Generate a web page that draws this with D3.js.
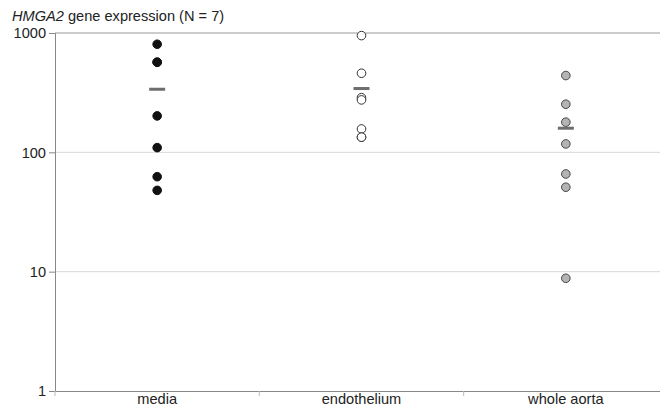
<!DOCTYPE html>
<head>
    <script src="https://d3js.org/d3.v7.min.js"></script>
</head>
<style>
body {
    margin: 0;
    font-family: "Liberation Sans", Arial, Helvetica, sans-serif;
    background: #fff;
}
text {
    fill: #222;
}
</style>
<body>
<svg></svg>
</body>
<script>

    // Data
    var groups = ["media", "endothelium", "whole aorta"];
    var media = [805, 569, 569, 202, 109.5, 62.5, 48];
    var endothelium = [951, 460, 287, 275, 157, 134, 134];
    var wholeAorta = [440, 253, 179, 117.6, 65.9, 51, 8.8];
    var yTicks = [1, 10, 100, 1000];

    var series = [media, endothelium, wholeAorta];
    var fills = ["#111", "#fff", "#b4b4b4"];
    var strokes = ["#111", "#333", "#444"];

    var width = 660, height = 407;
    var margin = {top: 33, right: -8, bottom: 16, left: 55};
    var fontSize = '14.6px';

    var svg = d3.select('svg')
        .attr('width', width)
        .attr('height', height);

    var x = d3.scaleBand()
        .domain(groups)
        .range([margin.left, width - margin.right]);

    var y = d3.scaleLog()
        .domain([1, 1000])
        .range([height - margin.bottom, margin.top]);

    // gridlines
    svg.append('g').selectAll('line')
        .data(yTicks.slice(1))
        .enter().append('line')
        .attr('x1', margin.left)
        .attr('x2', width)
        .attr('y1', function (d) { return y(d); })
        .attr('y2', function (d) { return y(d); })
        .style('stroke', function (d) { return d === 1000 ? '#999' : '#d8d8d8'; })
        .style('stroke-width', 1);

    // y axis
    var yAxis = svg.append('g')
        .attr('transform', 'translate(' + margin.left + ',0)')
        .call(d3.axisLeft(y).tickValues(yTicks).tickFormat(d3.format('d')).tickSize(6).tickPadding(3));
    yAxis.select('.domain').style('stroke', '#888');
    yAxis.selectAll('.tick line').style('stroke', '#888');
    yAxis.selectAll('text').style('font-size', fontSize).style('fill', '#222')
        .attr('font-family', '"Liberation Sans", Arial, sans-serif');

    // x axis
    var xAxis = svg.append('g')
        .attr('transform', 'translate(0,' + y(1) + ')')
        .call(d3.axisBottom(x).tickSize(0).tickPadding(3));
    xAxis.select('.domain').style('stroke', '#888');
    xAxis.selectAll('text').style('font-size', fontSize).style('fill', '#222')
        .attr('font-family', '"Liberation Sans", Arial, sans-serif');

    // category separator ticks
    svg.append('g').selectAll('line')
        .data(groups)
        .enter().append('line')
        .attr('x1', function (d) { return x(d); })
        .attr('x2', function (d) { return x(d); })
        .attr('y1', y(1))
        .attr('y2', y(1) + 5)
        .style('stroke', '#bbb');

    // dots
    series.forEach(function (vals, i) {
        var cx = x(groups[i]) + x.bandwidth() / 2;
        svg.append('g').selectAll('circle')
            .data(vals)
            .enter().append('circle')
            .attr('cx', cx)
            .attr('cy', function (d) { return y(d); })
            .attr('r', 4.3)
            .style('fill', fills[i])
            .style('stroke', strokes[i])
            .style('stroke-width', 1);

        // mean bar
        var m = d3.mean(vals);
        svg.append('rect')
            .attr('x', cx - 8)
            .attr('y', y(m) - 1.5)
            .attr('width', 16)
            .attr('height', 3)
            .style('fill', '#6e6e6e');
    });

    // title
    var title = svg.append('text')
        .attr('x', 12)
        .attr('y', 21)
        .style('font-size', fontSize);
    title.append('tspan').style('font-style', 'italic').text('HMGA2');
    title.append('tspan').text(' gene expression (N = 7)');

</script>
